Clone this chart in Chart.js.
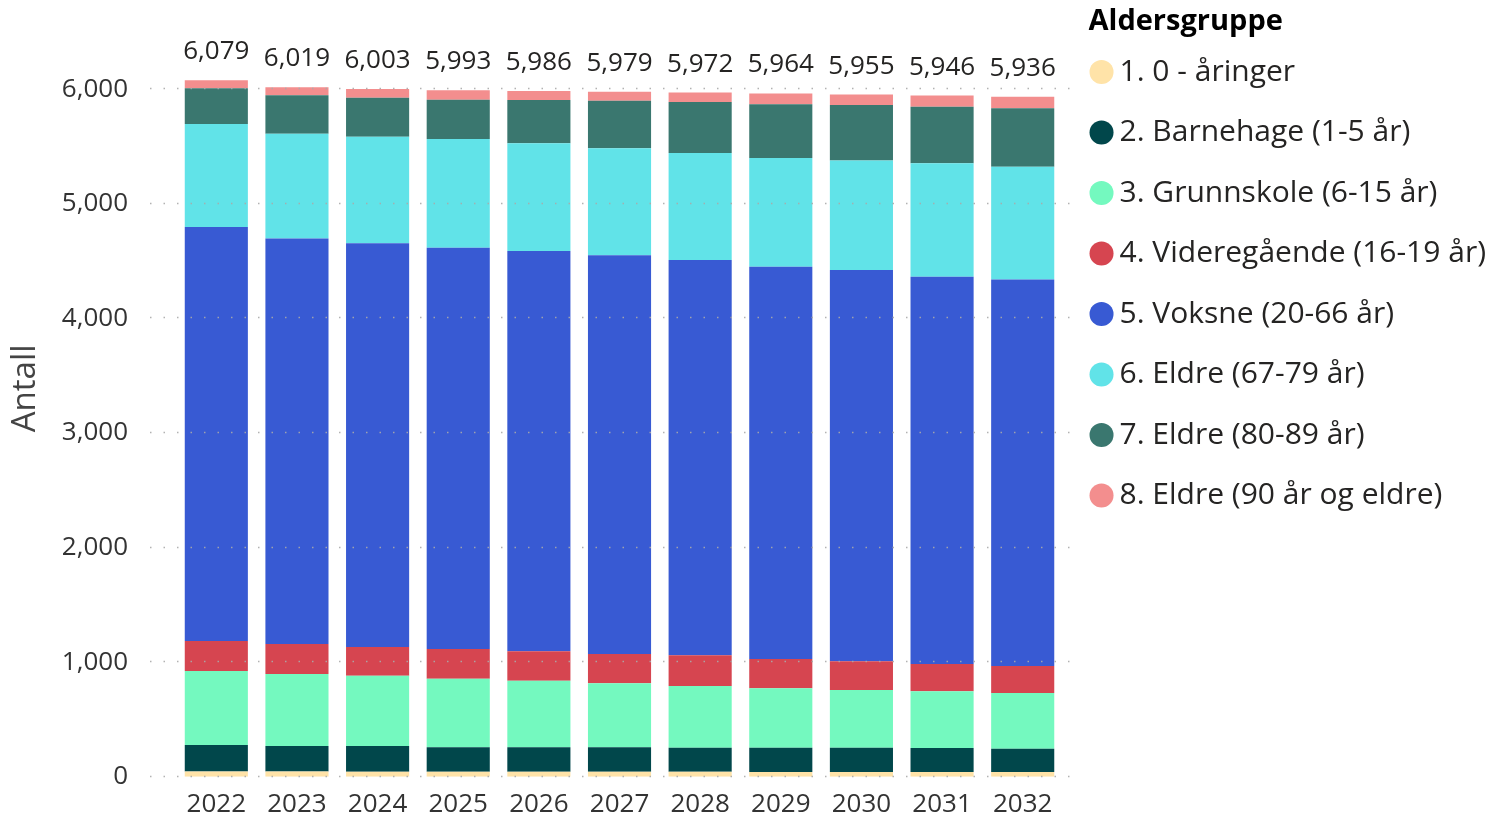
<!DOCTYPE html>
<html>
<head>
<meta charset="utf-8">
<script src="https://cdn.jsdelivr.net/npm/chart.js@4.4.1/dist/chart.umd.min.js"></script>
<style>
html,body{margin:0;padding:0;background:#fff;overflow:hidden}
#wrap{width:1496px;height:819px;position:relative}
canvas{display:block}
</style>
</head>
<body>
<div id="wrap"><canvas id="c" width="1496" height="819"></canvas></div>
<script>
// ---- Data ----
const years = ['2022','2023','2024','2025','2026','2027','2028','2029','2030','2031','2032'];
const seriesNames = ['1. 0 - åringer','2. Barnehage (1-5 år)','3. Grunnskole (6-15 år)','4. Videregående (16-19 år)','5. Voksne (20-66 år)','6. Eldre (67-79 år)','7. Eldre (80-89 år)','8. Eldre (90 år og eldre)'];
const nullAaringer = [46, 45, 44, 44, 43, 43, 43, 42, 42, 42, 41];
const barnehage    = [231, 223, 224, 213, 214, 214, 210, 211, 211, 208, 203];
const grunnskole   = [646, 628, 614, 598, 581, 558, 539, 519, 504, 495, 487];
const videregaende = [262, 262, 250, 260, 257, 256, 268, 255, 250, 239, 235];
const voksne       = [3614, 3541, 3524, 3502, 3493, 3480, 3450, 3424, 3416, 3380, 3375];
const eldre6779    = [898, 913, 930, 949, 941, 934, 934, 949, 957, 990, 983];
const eldre8089    = [312, 336, 341, 343, 377, 415, 445, 469, 483, 494, 510];
const eldre90      = [70, 71, 76, 84, 80, 79, 83, 95, 92, 98, 102];
const yTicks = [0, 1000, 2000, 3000, 4000, 5000, 6000];

const seriesData = [nullAaringer, barnehage, grunnskole, videregaende, voksne, eldre6779, eldre8089, eldre90];
const colors = ['#FFE3A8','#01474B','#74F9BF','#D64550','#385AD3','#61E3E8','#3A776F','#F38E8E'];

const FONT = "'Open Sans', 'Noto Sans', sans-serif";
Chart.defaults.font.family = FONT;

const fmt = v => Number(v).toLocaleString('en-US');

const gridPlugin = {
  id: 'dotgrid',
  afterDatasetsDraw(chart) {
    const {ctx, chartArea, scales: {y}} = chart;
    ctx.save();
    ctx.strokeStyle = 'rgba(170,170,170,0.9)';
    ctx.lineWidth = 1.5;
    ctx.setLineDash([1.5, 12]);
    yTicks.forEach(v => {
      const py = Math.round(y.getPixelForValue(v)) - 0.5;
      ctx.beginPath();
      ctx.moveTo(chartArea.left - 26, py);
      ctx.lineTo(chartArea.right + 13, py);
      ctx.stroke();
    });
    ctx.restore();
  }
};

const totalsPlugin = {
  id: 'totals',
  afterDatasetsDraw(chart) {
    const {ctx, scales: {y}} = chart;
    ctx.save();
    ctx.font = `26px ${FONT}`;
    ctx.fillStyle = '#252423';
    ctx.textAlign = 'center';
    ctx.textBaseline = 'alphabetic';
    const meta0 = chart.getDatasetMeta(0);
    chart.data.labels.forEach((lab, i) => {
      const total = chart.data.datasets.reduce((s, d) => s + d.data[i], 0);
      const x = meta0.data[i].x;
      ctx.fillText(fmt(total), x, y.getPixelForValue(total) - 21);
    });
    ctx.restore();
  }
};

new Chart(document.getElementById('c'), {
  type: 'bar',
  data: {
    labels: years,
    datasets: seriesNames.map((name, k) => ({
      label: name,
      data: seriesData[k],
      backgroundColor: colors[k],
      borderWidth: 0,
      categoryPercentage: 1,
      barPercentage: 0.7826
    }))
  },
  options: {
    responsive: false,
    animation: false,
    devicePixelRatio: 1,
    layout: {padding: 0},
    scales: {
      x: {
        stacked: true,
        grid: {display: false, drawTicks: false},
        border: {display: false},
        ticks: {font: {size: 26}, color: '#333333', padding: 12, maxRotation: 0, autoSkip: false},
        afterFit: s => { s.height = 42.3; }
      },
      y: {
        stacked: true,
        min: 0,
        max: 6780,
        grid: {display: false, drawTicks: false},
        border: {display: false},
        ticks: {stepSize: 1000, font: {size: 26}, color: '#333333', padding: 48, callback: v => fmt(v)},
        afterBuildTicks: s => { s.ticks = yTicks.map(v => ({value: v})); },
        title: {display: true, text: 'Antall', font: {size: 33}, color: '#444444', padding: {top: 6, bottom: 0}},
        afterFit: s => { s.width = 176; s.paddingTop = 0; s.paddingBottom = 0; }
      },
      gap: {
        position: 'right',
        display: true,
        grid: {display: false, drawTicks: false},
        border: {display: false},
        ticks: {display: false},
        afterFit: s => { s.width = 25.5; s.paddingTop = 0; s.paddingBottom = 0; }
      }
    },
    plugins: {
      tooltip: {enabled: false},
      legend: {
        position: 'right',
        align: 'start',
        maxWidth: 409,
        title: {display: true, position: 'start', text: 'Aldersgruppe', color: '#000000', font: {size: 29, weight: 'bold'}, padding: {top: 7, bottom: 5.3}},
        labels: {
          usePointStyle: true,
          pointStyle: 'circle',
          boxWidth: 6,
          boxHeight: 17,
          padding: 10,
          color: '#252423',
          font: {size: 30, lineHeight: 1.683},
          generateLabels: chart => Chart.defaults.plugins.legend.labels.generateLabels(chart).map(l => Object.assign({}, l, {text: [l.text]}))
        }
      }
    }
  },
  plugins: [gridPlugin, totalsPlugin]
});
</script>
</body>
</html>
